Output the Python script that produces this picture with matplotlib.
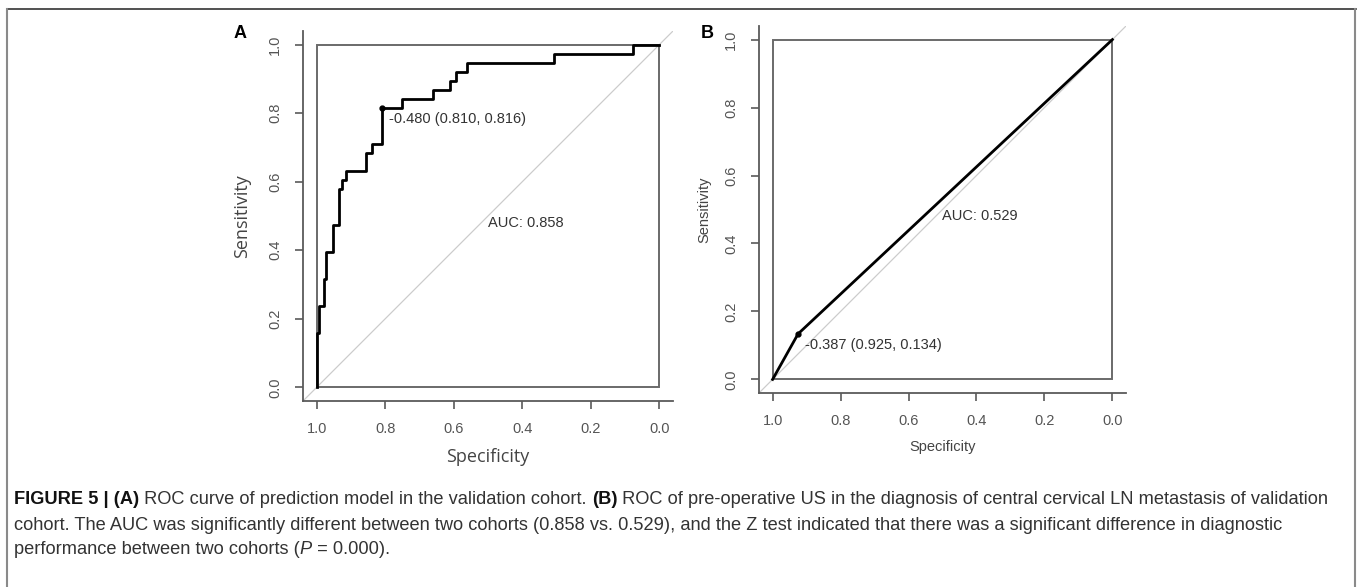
import matplotlib
matplotlib.use('Agg')
import matplotlib.pyplot as plt
from matplotlib.lines import Line2D
from matplotlib.patches import Rectangle

W, H = 1357, 587

# ROC curve A (prediction model, validation cohort) - step vertices
spec_a = [1.0, 1.0, 0.993, 0.979, 0.972, 0.952, 0.935, 0.925, 0.915, 0.857,
          0.840, 0.810, 0.752, 0.660, 0.611, 0.592, 0.562, 0.306, 0.078, 0.0]
sens_a = [0.0, 0.158, 0.237, 0.316, 0.395, 0.474, 0.579, 0.605, 0.632, 0.684,
          0.711, 0.816, 0.842, 0.868, 0.895, 0.921, 0.947, 0.974, 1.0, 1.0]
thr_a = (-0.480, 0.810, 0.816)
auc_a = 0.858

# ROC curve B (pre-operative US)
spec_b = [1.0, 0.925, 0.0]
sens_b = [0.0, 0.134, 1.0]
thr_b = (-0.387, 0.925, 0.134)
auc_b = 0.529

ticks = [0.0, 0.2, 0.4, 0.6, 0.8, 1.0]

caption = [
    [("FIGURE 5 | (A)", "bold", "normal"),
     (" ROC curve of prediction model in the validation cohort. ", "normal", "normal"),
     ("(B)", "bold", "normal"),
     (" ROC of pre-operative US in the diagnosis of central cervical LN metastasis of validation", "normal", "normal")],
    [("cohort. The AUC was significantly different between two cohorts (0.858 vs. 0.529), and the Z test indicated that there was a significant difference in diagnostic", "normal", "normal")],
    [("performance between two cohorts (", "normal", "normal"),
     ("P", "normal", "italic"),
     (" = 0.000).", "normal", "normal")],
]

fig = plt.figure(figsize=(W / 100, H / 100), dpi=100)


def px_axes(x0, y0, x1, y1):
    return fig.add_axes([x0 / W, 1 - y1 / H, (x1 - x0) / W, (y1 - y0) / H])


def roc_panel(ax, spec, sens, thr, auc, step, lab_font, lab_size, xlab_y, ylab_x):
    ax.set_xlim(1.04, -0.04)
    ax.set_ylim(-0.04, 1.04)
    for s in ['top', 'right']:
        ax.spines[s].set_visible(False)
    for s in ['left', 'bottom']:
        ax.spines[s].set_color('#5a5a5a')
        ax.spines[s].set_linewidth(1.3)
    ax.set_xticks(ticks)
    ax.set_yticks(ticks)
    ax.set_xticklabels(['%.1f' % t for t in ticks])
    ax.set_yticklabels(['%.1f' % t for t in ticks], rotation=90, va='center')
    ax.tick_params(axis='both', length=6, width=1.2, color='#5a5a5a',
                   labelcolor='#555555', labelsize=10.5)
    ax.tick_params(axis='x', pad=9)
    ax.tick_params(axis='y', pad=9)
    for lbl in ax.get_xticklabels() + ax.get_yticklabels():
        lbl.set_family('Liberation Sans')

    # chance line and unit box
    ax.plot([1.04, -0.04], [-0.04, 1.04], color='#cccccc', lw=0.9, zorder=1)
    ax.add_patch(Rectangle((0, 0), 1, 1, fill=False, ec='#6a6a6a', lw=1.4, zorder=2))

    if step:
        ax.step(spec, sens, where='post', color='black', lw=2.0, zorder=3)
    else:
        ax.plot(spec, sens, color='black', lw=2.0, zorder=3)
    ax.plot(thr[1], thr[2], 'o', color='black', ms=3.5, zorder=4)
    ax.text(thr[1] - 0.021, thr[2] - 0.032, '%.3f (%.3f, %.3f)' % thr,
            ha='left', va='center', fontsize=10.5, color='#333333',
            family='Liberation Sans')
    ax.text(0.5, 0.5, 'AUC: %.3f' % auc, ha='left', va='top', fontsize=10.5,
            color='#333333', family='Liberation Sans')

    ax.text(0.5, xlab_y, 'Specificity', transform=ax.transAxes, ha='center',
            va='center', fontsize=lab_size, family=lab_font, color='#444444')
    ax.text(ylab_x, 0.5, 'Sensitivity', transform=ax.transAxes, ha='center',
            va='center', rotation=90, fontsize=lab_size, family=lab_font,
            color='#444444')


ax_a = px_axes(303, 31, 673, 401)
roc_panel(ax_a, spec_a, sens_a, thr_a, auc_a, True, 'Open Sans', 13, -0.15, -0.165)
ax_b = px_axes(759, 26, 1126, 393)
roc_panel(ax_b, spec_b, sens_b, thr_b, auc_b, False, 'Liberation Sans', 10.5, -0.148, -0.148)

fig.text(240 / W, 1 - 33 / H, 'A', ha='center', va='center', fontsize=13,
         weight='bold', family='Liberation Sans')
fig.text(707 / W, 1 - 33 / H, 'B', ha='center', va='center', fontsize=13,
         weight='bold', family='Liberation Sans')

# frame around the figure
fig.add_artist(Line2D([7 / W, 1356 / W], [1 - 9 / H, 1 - 9 / H], color='#333333', lw=1.2))
fig.add_artist(Line2D([7 / W, 7 / W], [0, 1 - 9 / H], color='#8a8a8a', lw=1.5))
fig.add_artist(Line2D([1355 / W, 1355 / W], [0, 1 - 9 / H], color='#8a8a8a', lw=1.5))

# caption, size fitted to the width of the first line
renderer = fig.canvas.get_renderer()


def line_width(pieces, size):
    tot = 0
    for s, w, st in pieces:
        t = fig.text(0, 0, s, fontsize=size, weight=w, style=st, family='Liberation Sans')
        tot += t.get_window_extent(renderer).width
        t.remove()
    return tot


cap_size = 10 * (1330 - 14) / line_width(caption[0], 10)
line_y = [500, 525, 550]
for pieces, yy in zip(caption, line_y):
    x = 14
    for s, w, st in pieces:
        t = fig.text(x / W, 1 - yy / H, s, fontsize=cap_size, weight=w, style=st,
                     family='Liberation Sans', va='center',
                     color='#111111' if w == 'bold' else '#333333')
        x += t.get_window_extent(renderer).width

fig.savefig('out.png', dpi=100)
